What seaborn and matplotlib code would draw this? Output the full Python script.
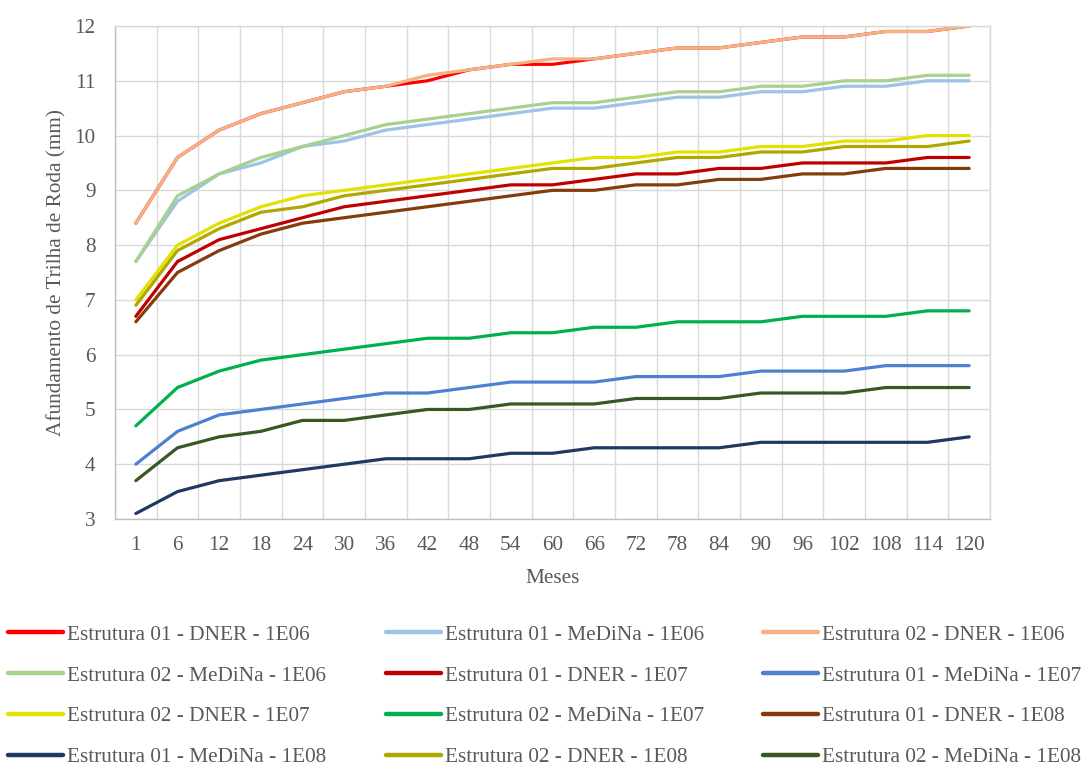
import matplotlib
matplotlib.use("Agg")
import matplotlib.pyplot as plt
import seaborn as sns
import pandas as pd
import numpy as np

months = ["1", "6", "12", "18", "24", "30", "36", "42", "48", "54", "60",
          "66", "72", "78", "84", "90", "96", "102", "108", "114", "120"]

e01_dner_1e06 = [8.4, 9.6, 10.1, 10.4, 10.6, 10.8, 10.9, 11.0, 11.2, 11.3, 11.3,
                 11.4, 11.5, 11.6, 11.6, 11.7, 11.8, 11.8, 11.9, 11.9, 12.0]
e01_medina_1e06 = [7.7, 8.8, 9.3, 9.5, 9.8, 9.9, 10.1, 10.2, 10.3, 10.4, 10.5,
                   10.5, 10.6, 10.7, 10.7, 10.8, 10.8, 10.9, 10.9, 11.0, 11.0]
e02_dner_1e06 = [8.4, 9.6, 10.1, 10.4, 10.6, 10.8, 10.9, 11.1, 11.2, 11.3, 11.4,
                 11.4, 11.5, 11.6, 11.6, 11.7, 11.8, 11.8, 11.9, 11.9, 12.0]
e02_medina_1e06 = [7.7, 8.9, 9.3, 9.6, 9.8, 10.0, 10.2, 10.3, 10.4, 10.5, 10.6,
                   10.6, 10.7, 10.8, 10.8, 10.9, 10.9, 11.0, 11.0, 11.1, 11.1]
e01_dner_1e07 = [6.7, 7.7, 8.1, 8.3, 8.5, 8.7, 8.8, 8.9, 9.0, 9.1, 9.1,
                 9.2, 9.3, 9.3, 9.4, 9.4, 9.5, 9.5, 9.5, 9.6, 9.6]
e01_medina_1e07 = [4.0, 4.6, 4.9, 5.0, 5.1, 5.2, 5.3, 5.3, 5.4, 5.5, 5.5,
                   5.5, 5.6, 5.6, 5.6, 5.7, 5.7, 5.7, 5.8, 5.8, 5.8]
e02_dner_1e07 = [7.0, 8.0, 8.4, 8.7, 8.9, 9.0, 9.1, 9.2, 9.3, 9.4, 9.5,
                 9.6, 9.6, 9.7, 9.7, 9.8, 9.8, 9.9, 9.9, 10.0, 10.0]
e02_medina_1e07 = [4.7, 5.4, 5.7, 5.9, 6.0, 6.1, 6.2, 6.3, 6.3, 6.4, 6.4,
                   6.5, 6.5, 6.6, 6.6, 6.6, 6.7, 6.7, 6.7, 6.8, 6.8]
e01_dner_1e08 = [6.6, 7.5, 7.9, 8.2, 8.4, 8.5, 8.6, 8.7, 8.8, 8.9, 9.0,
                 9.0, 9.1, 9.1, 9.2, 9.2, 9.3, 9.3, 9.4, 9.4, 9.4]
e01_medina_1e08 = [3.1, 3.5, 3.7, 3.8, 3.9, 4.0, 4.1, 4.1, 4.1, 4.2, 4.2,
                   4.3, 4.3, 4.3, 4.3, 4.4, 4.4, 4.4, 4.4, 4.4, 4.5]
e02_dner_1e08 = [6.9, 7.9, 8.3, 8.6, 8.7, 8.9, 9.0, 9.1, 9.2, 9.3, 9.4,
                 9.4, 9.5, 9.6, 9.6, 9.7, 9.7, 9.8, 9.8, 9.8, 9.9]
e02_medina_1e08 = [3.7, 4.3, 4.5, 4.6, 4.8, 4.8, 4.9, 5.0, 5.0, 5.1, 5.1,
                   5.1, 5.2, 5.2, 5.2, 5.3, 5.3, 5.3, 5.4, 5.4, 5.4]

series_names = [
    "Estrutura 01 - DNER - 1E06", "Estrutura 01 - MeDiNa - 1E06", "Estrutura 02 - DNER - 1E06",
    "Estrutura 02 - MeDiNa - 1E06", "Estrutura 01 - DNER - 1E07", "Estrutura 01 - MeDiNa - 1E07",
    "Estrutura 02 - DNER - 1E07", "Estrutura 02 - MeDiNa - 1E07", "Estrutura 01 - DNER - 1E08",
    "Estrutura 01 - MeDiNa - 1E08", "Estrutura 02 - DNER - 1E08", "Estrutura 02 - MeDiNa - 1E08",
]
series_values = [e01_dner_1e06, e01_medina_1e06, e02_dner_1e06, e02_medina_1e06,
                 e01_dner_1e07, e01_medina_1e07, e02_dner_1e07, e02_medina_1e07,
                 e01_dner_1e08, e01_medina_1e08, e02_dner_1e08, e02_medina_1e08]
colors = ["#FF0000", "#9DC3E6", "#F4B183", "#A9D18E", "#C00000", "#4F7FD0",
          "#E2E200", "#00B050", "#843C0C", "#203864", "#B0A800", "#385723"]

rows = []
for name, vals in zip(series_names, series_values):
    for m, v in zip(months, vals):
        rows.append({"Meses": m, "valor": v, "serie": name})
df = pd.DataFrame(rows)

sns.set_style("white")
plt.rcParams["font.family"] = ["Liberation Serif", "DejaVu Serif"]
text_color = "#595959"
fs = 15.3

W, H = 1083, 766
fig = plt.figure(figsize=(W / 100, H / 100), dpi=100)
ax = fig.add_axes([115 / W, 1 - 519 / H, (990 - 115) / W, (519 - 26) / H])

sns.lineplot(data=df, x="Meses", y="valor", hue="serie", hue_order=series_names,
             palette=dict(zip(series_names, colors)), linewidth=2.3,
             ax=ax, legend=True, sort=False)

n = len(months)
ax.set_xlim(-0.5, n - 0.5)
ax.set_ylim(3, 12)
ax.set_yticks(np.arange(3, 13, 1))
ax.set_xticks(np.arange(n))
ax.set_xticklabels(months)
ax.set_xticks(np.arange(-0.5, n, 1), minor=True)
ax.grid(False)
ax.grid(axis="y", which="major", color="#d9d9d9", linewidth=1.0)
ax.grid(axis="x", which="minor", color="#d9d9d9", linewidth=1.0)
ax.set_axisbelow(True)
for s in ["top", "right"]:
    ax.spines[s].set_color("#d9d9d9")
    ax.spines[s].set_linewidth(1.0)
for s in ["left", "bottom"]:
    ax.spines[s].set_color("#bfbfbf")
    ax.spines[s].set_linewidth(1.0)
ax.tick_params(axis="both", which="both", length=0, labelsize=fs, labelcolor=text_color)
ax.tick_params(axis="y", pad=14)
ax.tick_params(axis="x", pad=12)
ax.set_xlabel("Meses", fontsize=fs, color=text_color, labelpad=10)
ax.set_ylabel("Afundamento de Trilha de Roda (mm)", fontsize=fs, color=text_color, labelpad=6)

handles, labels = ax.get_legend_handles_labels()
ax.get_legend().remove()
ncol = 3
nrow = int(np.ceil(len(handles) / ncol))
order = [r * ncol + c for c in range(ncol) for r in range(nrow)]
h2 = [handles[i] for i in order]
l2 = [labels[i] for i in order]
leg = fig.legend(h2, l2, ncol=ncol, loc="upper left",
                 bbox_to_anchor=(8 / W, 1 - 625 / H), frameon=False,
                 fontsize=fs, handlelength=2.58, handletextpad=0.2,
                 columnspacing=2.8, labelspacing=0.98, borderpad=0, borderaxespad=0)
for t in leg.get_texts():
    t.set_color(text_color)
for lh in leg.get_lines():
    lh.set_linewidth(3.2)

fig.savefig("out.png", dpi=100)
